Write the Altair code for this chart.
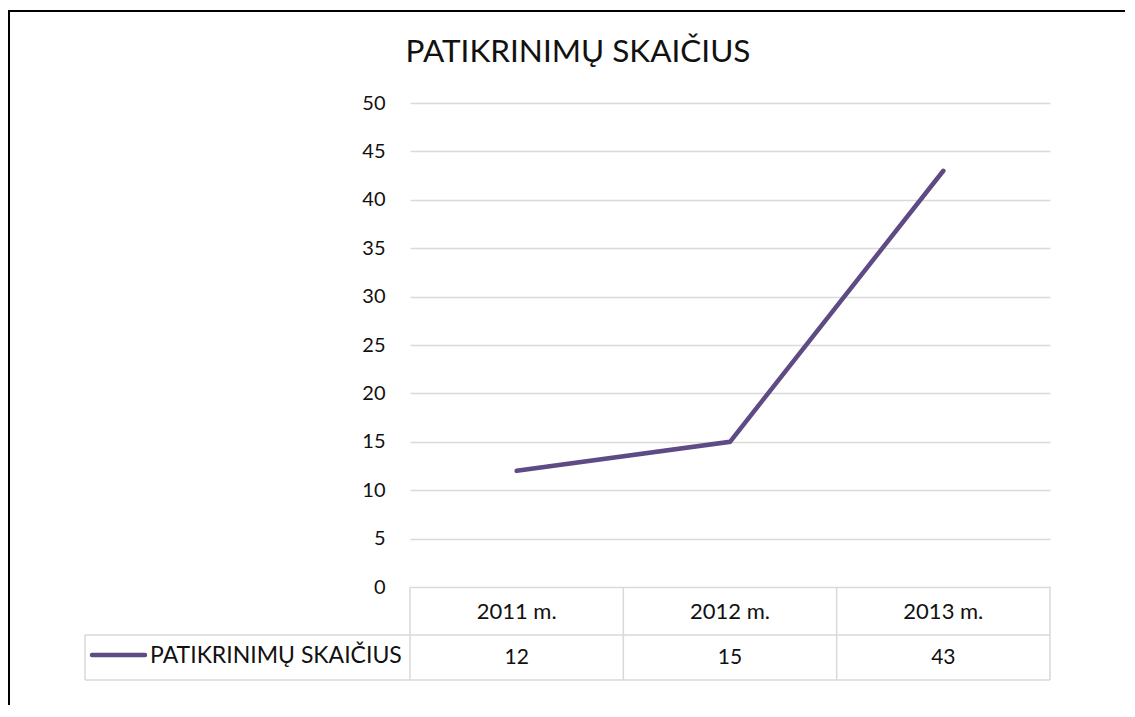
import altair as alt
import pandas as pd

years = ["2011 m.", "2012 m.", "2013 m."]
values = [12, 15, 43]
series_name = "PATIKRINIMŲ SKAIČIUS"
title_text = "PATIKRINIMŲ SKAIČIUS"
y_ticks = list(range(0, 51, 5))

df = pd.DataFrame({"year": years, "value": values, "series": [series_name] * len(years)})

W, H = 640, 484
FONT = "Lato"
LINE_COLOR = "#5E4A84"
GRID = "#d9d9d9"
TXT = "#111111"

xscale = alt.Scale(type="band", domain=years, paddingInner=0, paddingOuter=0)
yscale = alt.Scale(domain=[0, 50], nice=False, zero=True)

base = alt.Chart(df)
one = base.transform_filter(alt.datum.year == years[0])
last = base.transform_filter(alt.datum.year == years[-1])

line = base.mark_line(color=LINE_COLOR, strokeWidth=4.5, strokeCap="round").encode(
    x=alt.X("year:N", scale=xscale, sort=years,
            axis=alt.Axis(title=None, domain=False, ticks=False, labelPadding=24,
                          labelBaseline="middle", labelAlign="center", labelFontSize=22,
                          labelColor=TXT, labelFont=FONT, labelAngle=0)),
    y=alt.Y("value:Q", scale=yscale,
            axis=alt.Axis(title=None, values=y_ticks, domain=False, ticks=False, grid=True,
                          gridColor=GRID, gridWidth=1.5, labelPadding=25, labelFontSize=20,
                          labelFont=FONT, labelColor=TXT)),
)

vrules = base.mark_rule(color=GRID, strokeWidth=1.5).encode(
    x=alt.X("year:N", bandPosition=0, scale=xscale, sort=years),
    y=alt.value(H), y2=alt.value(H + 93),
)
vrule_end = last.mark_rule(color=GRID, strokeWidth=1.5).encode(
    x=alt.X("year:N", bandPosition=1, scale=xscale, sort=years),
    y=alt.value(H), y2=alt.value(H + 93),
)
hrule1 = one.mark_rule(color=GRID, strokeWidth=1.5).encode(
    x=alt.value(-325), x2=alt.value(W), y=alt.value(H + 48))
hrule2 = one.mark_rule(color=GRID, strokeWidth=1.5).encode(
    x=alt.value(-325), x2=alt.value(W), y=alt.value(H + 93))
vleft = one.mark_rule(color=GRID, strokeWidth=1.5).encode(
    x=alt.value(-325), y=alt.value(H + 48), y2=alt.value(H + 93))

vals = base.mark_text(font=FONT, fontSize=21, color=TXT, baseline="middle").encode(
    x=alt.X("year:N", scale=xscale, sort=years),
    y=alt.value(H + 71),
    text=alt.Text("value:Q"),
)

leg_line = one.mark_rule(color=LINE_COLOR, strokeWidth=4.5, strokeCap="round").encode(
    x=alt.value(-318), x2=alt.value(-265), y=alt.value(H + 68))
leg_text = one.mark_text(font=FONT, fontSize=23, color=TXT, align="left", baseline="middle").encode(
    x=alt.value(-260), y=alt.value(H + 69), text="series:N")

title = one.mark_text(font=FONT, fontSize=31.5, color=TXT, align="center", baseline="alphabetic").encode(
    x=alt.value(168), y=alt.value(-41), text=alt.value(title_text))

border_left = one.mark_rule(color="black", strokeWidth=2).encode(
    x=alt.value(-401), y=alt.value(-93), y2=alt.value(H + 130))
border_top = one.mark_rule(color="black", strokeWidth=2).encode(
    x=alt.value(-402), x2=alt.value(W + 90), y=alt.value(-92))

chart = alt.layer(
    vrules, vrule_end, hrule1, hrule2, vleft, line, vals, leg_line, leg_text, title,
    border_left, border_top,
).properties(
    width=W, height=H,
    padding={"left": 402, "top": 95, "right": 75, "bottom": 118},
    autosize=alt.AutoSizeParams(type="none"),
    background="white",
).configure_view(stroke=None)

chart.save("out.html", embed_options={"renderer": "svg", "actions": False})
